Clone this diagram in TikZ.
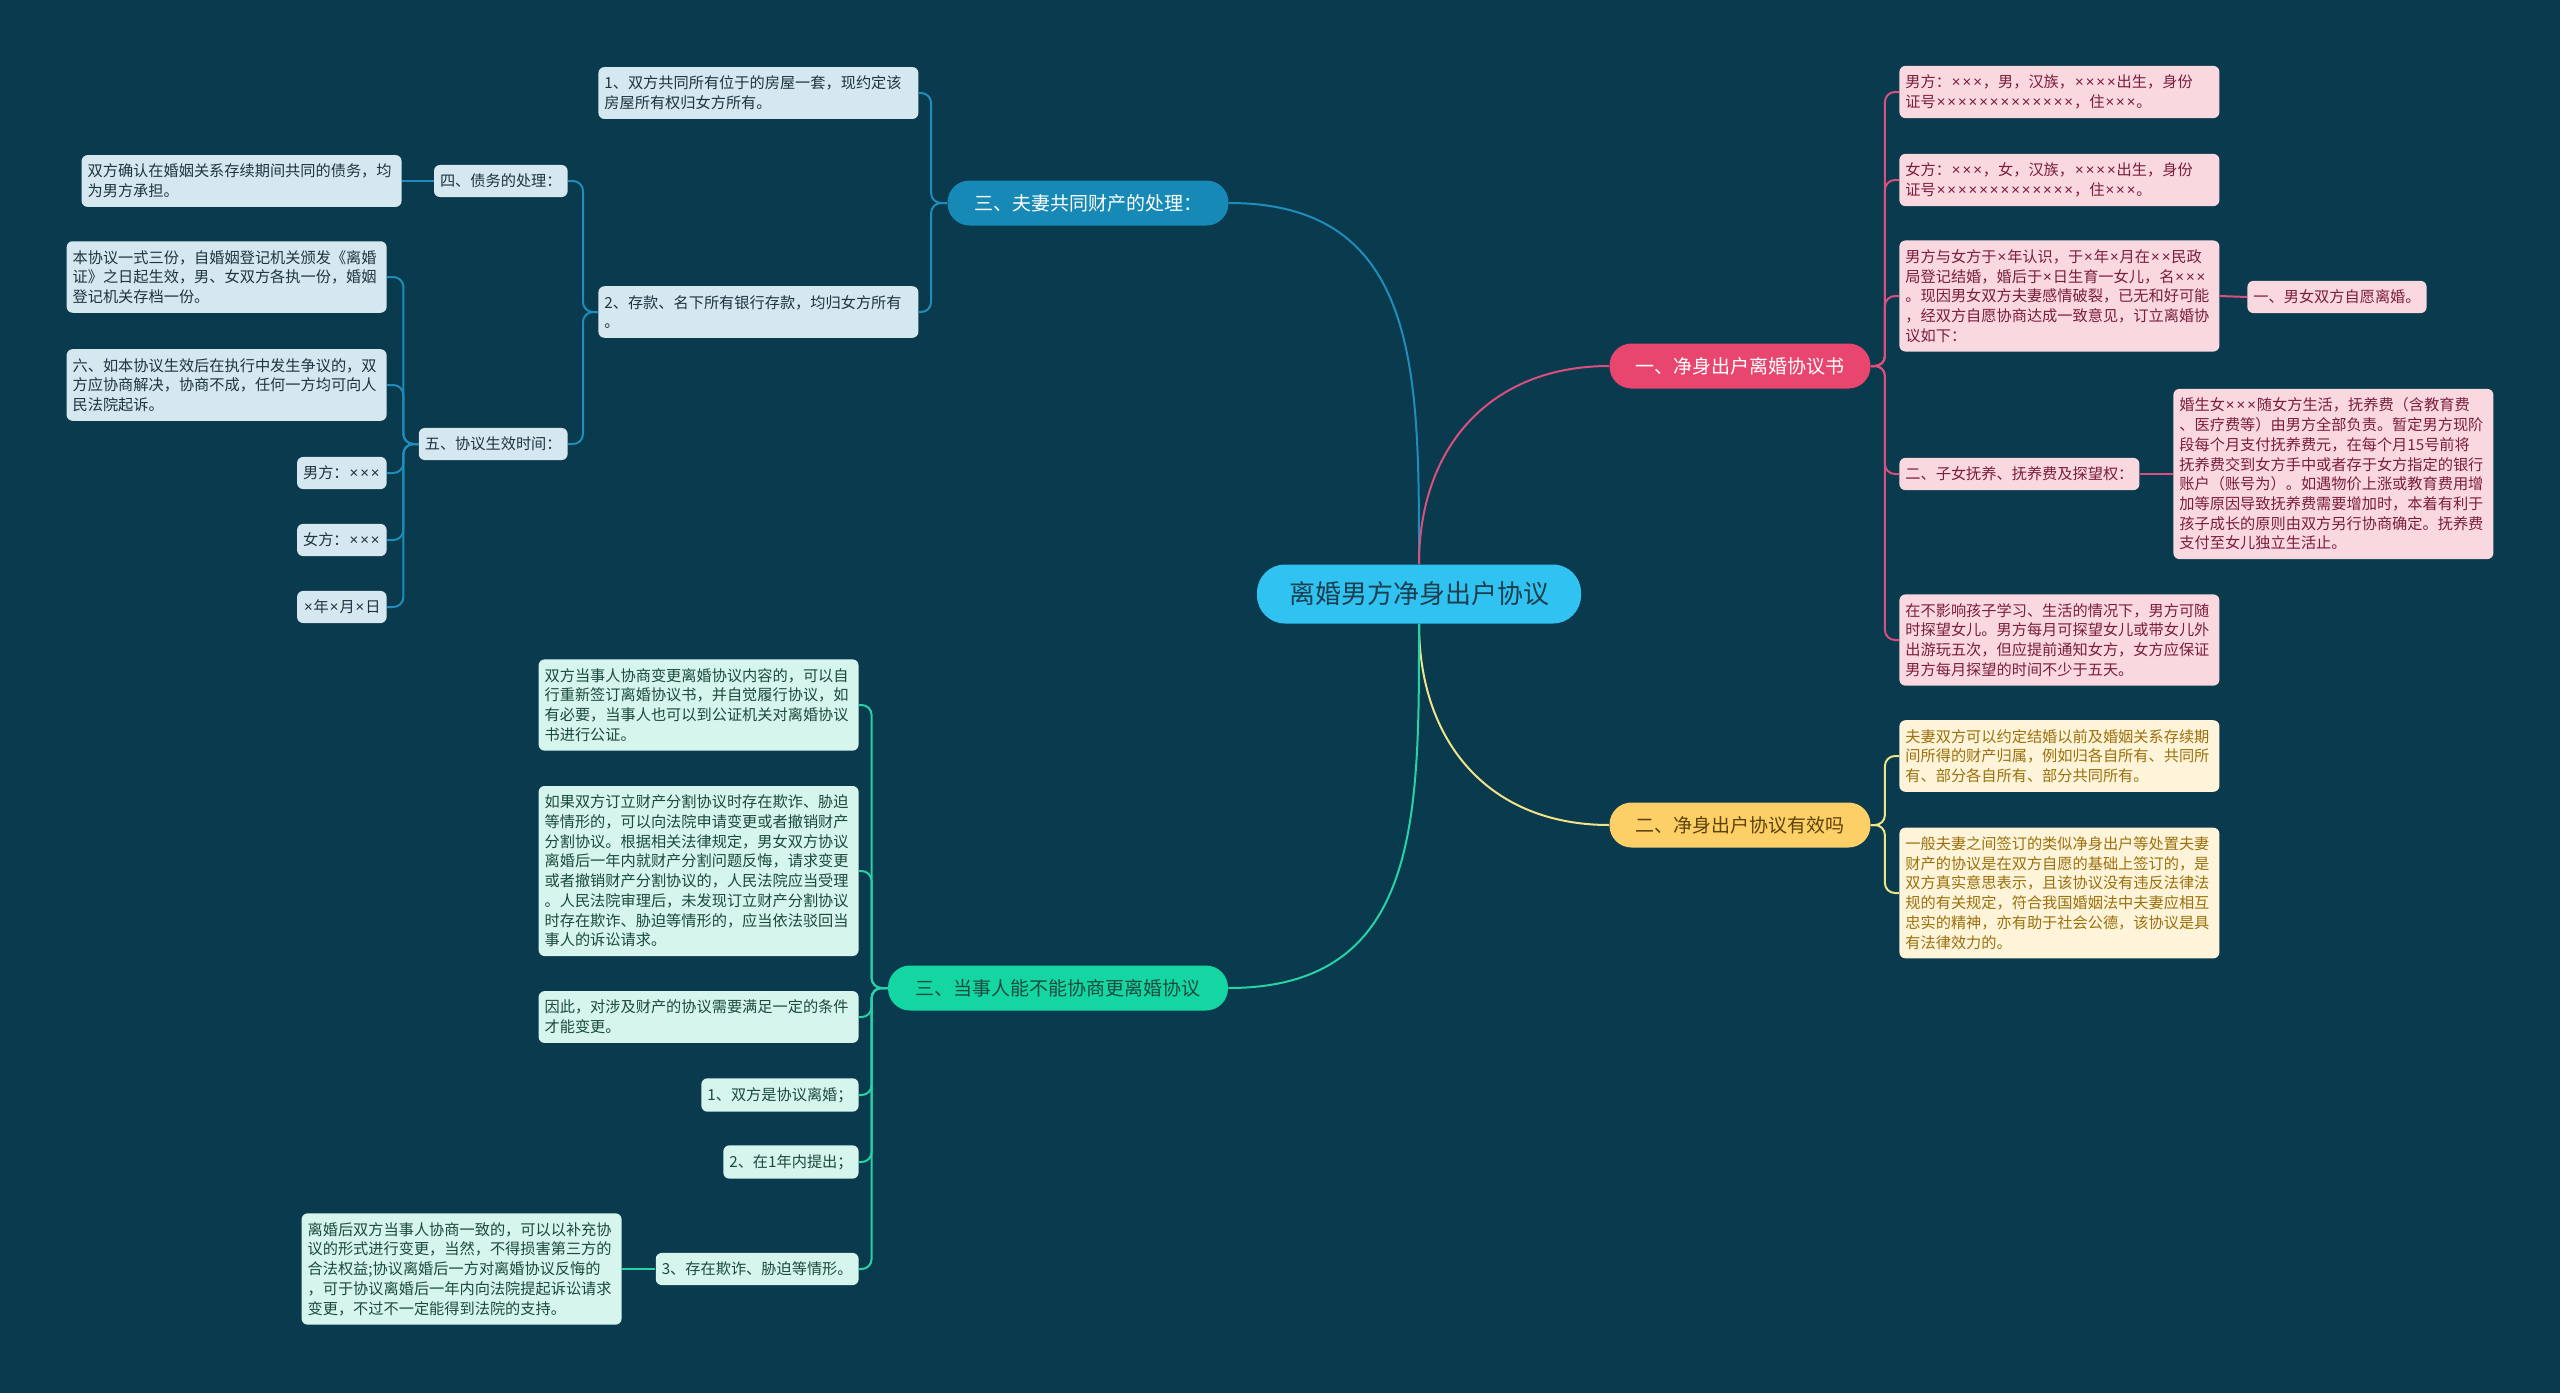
\documentclass[tikz,border=0pt]{standalone}
\usepackage{fontspec}
\usepackage{newunicodechar}
\usepackage{xcolor}
\usepackage{tikz}
\usetikzlibrary{positioning}
\newfontfamily\cjk{Noto Sans CJK SC}
\newfontfamily\lat{Noto Sans}
\newunicodechar{×}{\makebox[0.7em]{\lat\symbol{"D7}}}
\definecolor{bgteal}{HTML}{0A3A4D}
\definecolor{rootfill}{HTML}{30C3F2}
\definecolor{rootink}{HTML}{1C3E4E}
\definecolor{bluetop}{HTML}{1789B6}
\definecolor{blueline}{HTML}{1E8DBB}
\definecolor{bluefill}{HTML}{D5E8F0}
\definecolor{blueink}{HTML}{1E3440}
\definecolor{pinktop}{HTML}{E8466E}
\definecolor{pinkline}{HTML}{D9507E}
\definecolor{pinkfill}{HTML}{FAD8E0}
\definecolor{pinkink}{HTML}{7A1E3C}
\definecolor{yellowtop}{HTML}{FCCF67}
\definecolor{yellowline}{HTML}{F0E48A}
\definecolor{yellowfill}{HTML}{FDF4DA}
\definecolor{yellowink}{HTML}{9C700C}
\definecolor{greentop}{HTML}{14D6A2}
\definecolor{greenline}{HTML}{26D2A6}
\definecolor{greenfill}{HTML}{D6F5EC}
\definecolor{greenink}{HTML}{1B4A3F}
\tikzset{
  rootnode/.style={fill=rootfill, text=rootink, rounded corners=14pt, minimum width=162pt, minimum height=29.5pt, font=\cjk\fontsize{13}{15}\selectfont},
  topic/.style={rounded corners=11pt, minimum height=22.5pt, font=\cjk\fontsize{9.5}{11}\selectfont},
  leaf/.style={rounded corners=3pt, inner xsep=3pt, inner ysep=4.5pt, align=left, font=\cjk\fontsize{7.6}{9.85}\selectfont},
  wideleaf/.style={leaf, text width=154pt},
  blueleaf/.style={fill=bluefill, text=blueink},
  pinkleaf/.style={fill=pinkfill, text=pinkink},
  yellowleaf/.style={fill=yellowfill, text=yellowink},
  greenleaf/.style={fill=greenfill, text=greenink},
  branch/.style={line width=1pt, rounded corners=5pt},
}

\begin{document}
\begin{tikzpicture}[x=0.5pt, y=0.5pt]
\fill[bgteal] (0,0) rectangle (2560,-1393);
\useasboundingbox (0,0) rectangle (2560,-1393);

\node[rootnode] (root) at (1419,-594) {离婚男方净身出户协议};
\node[topic, fill=bluetop, text=white, minimum width=140.5pt] (m3) at (1088,-203) {三、夫妻共同财产的处理：};
\node[topic, fill=pinktop, text=white, minimum width=130.5pt] (m1) at (1740,-366) {一、净身出户离婚协议书};
\node[topic, fill=yellowtop, text=yellowink!60!black, minimum width=130.5pt] (m2) at (1740,-825) {二、净身出户协议有效吗};
\node[topic, fill=greentop, text=greenink, minimum width=170pt] (m4) at (1058,-988) {三、当事人能不能协商更离婚协议};

\draw[line width=1pt, blueline] (root.north) to[out=90, in=0, looseness=1.2] (m3.east);
\draw[line width=1pt, pinkline] (root.north) to[out=90, in=180, looseness=1.1] (m1.west);
\draw[line width=1pt, yellowline] (root.south) to[out=-90, in=180, looseness=1.1] (m2.west);
\draw[line width=1pt, greenline] (root.south) to[out=-90, in=0, looseness=1.2] (m4.east);

% blue branch
\node[wideleaf, blueleaf, anchor=west] (a1) at (598,-93) {1、双方共同所有位于的房屋一套，现约定该\\房屋所有权归女方所有。};
\node[wideleaf, blueleaf, anchor=west] (a2) at (598,-312) {2、存款、名下所有银行存款，均归女方所有\\。};
\node[leaf, blueleaf, anchor=east] (a3) at (568,-181) {四、债务的处理：};
\node[wideleaf, blueleaf, anchor=east] (a4) at (402,-181) {双方确认在婚姻关系存续期间共同的债务，均\\为男方承担。};
\node[leaf, blueleaf, anchor=east] (a5) at (568,-444) {五、协议生效时间：};
\node[wideleaf, blueleaf, anchor=east] (a6) at (387,-277) {本协议一式三份，自婚姻登记机关颁发《离婚\\证》之日起生效，男、女双方各执一份，婚姻\\登记机关存档一份。};
\node[wideleaf, blueleaf, anchor=east] (a7) at (387,-385) {六、如本协议生效后在执行中发生争议的，双\\方应协商解决，协商不成，任何一方均可向人\\民法院起诉。};
\node[leaf, blueleaf, anchor=east] (a8) at (387,-473) {男方：×××};
\node[leaf, blueleaf, anchor=east] (a9) at (387,-540) {女方：×××};
\node[leaf, blueleaf, anchor=east] (a10) at (387,-607) {×年×月×日};

\draw[branch, blueline] (m3.west) -- ++(-16,0) |- (a1.east);
\draw[branch, blueline] (m3.west) -- ++(-16,0) |- (a2.east);
\draw[branch, blueline] (a2.west) -- ++(-15,0) |- (a3.east);
\draw[branch, blueline] (a2.west) -- ++(-15,0) |- (a5.east);
\draw[branch, blueline] (a3.west) -- (a4.east);
\foreach \k in {a6,a7,a8,a9,a10}
  \draw[branch, blueline] (a5.west) -- ++(-15,0) |- (\k.east);

% pink branch
\node[wideleaf, pinkleaf, anchor=west] (p1) at (1899,-92) {男方：×××，男，汉族，××××出生，身份\\证号×××××××××××××，住×××。};
\node[wideleaf, pinkleaf, anchor=west] (p2) at (1899,-180) {女方：×××，女，汉族，××××出生，身份\\证号×××××××××××××，住×××。};
\node[wideleaf, pinkleaf, anchor=west] (p3) at (1899,-296) {男方与女方于×年认识，于×年×月在××民政\\局登记结婚，婚后于×日生育一女儿，名×××\\。现因男女双方夫妻感情破裂，已无和好可能\\，经双方自愿协商达成一致意见，订立离婚协\\议如下：};
\node[leaf, pinkleaf, anchor=west] (p4) at (2247,-297) {一、男女双方自愿离婚。};
\node[leaf, pinkleaf, anchor=west] (p5) at (1899,-474) {二、子女抚养、抚养费及探望权：};
\node[wideleaf, pinkleaf, anchor=west] (p6) at (2173,-474) {婚生女×××随女方生活，抚养费（含教育费\\、医疗费等）由男方全部负责。暂定男方现阶\\段每个月支付抚养费元，在每个月15号前将\\抚养费交到女方手中或者存于女方指定的银行\\账户（账号为）。如遇物价上涨或教育费用增\\加等原因导致抚养费需要增加时，本着有利于\\孩子成长的原则由双方另行协商确定。抚养费\\支付至女儿独立生活止。};
\node[wideleaf, pinkleaf, anchor=west] (p7) at (1899,-640) {在不影响孩子学习、生活的情况下，男方可随\\时探望女儿。男方每月可探望女儿或带女儿外\\出游玩五次，但应提前通知女方，女方应保证\\男方每月探望的时间不少于五天。};

\foreach \k in {p1,p2,p3,p5,p7}
  \draw[branch, pinkline] (m1.east) -- ++(14,0) |- (\k.west);
\draw[branch, pinkline] (p3.east) -- (p4.west);
\draw[branch, pinkline] (p5.east) -- (p6.west);

% yellow branch
\node[wideleaf, yellowleaf, anchor=west] (y1) at (1899,-756) {夫妻双方可以约定结婚以前及婚姻关系存续期\\间所得的财产归属，例如归各自所有、共同所\\有、部分各自所有、部分共同所有。};
\node[wideleaf, yellowleaf, anchor=west] (y2) at (1899,-893) {一般夫妻之间签订的类似净身出户等处置夫妻\\财产的协议是在双方自愿的基础上签订的，是\\双方真实意思表示，且该协议没有违反法律法\\规的有关规定，符合我国婚姻法中夫妻应相互\\忠实的精神，亦有助于社会公德，该协议是具\\有法律效力的。};

\foreach \k in {y1,y2}
  \draw[branch, yellowline] (m2.east) -- ++(14,0) |- (\k.west);

% green branch
\node[wideleaf, greenleaf, anchor=east] (g1) at (859,-705) {双方当事人协商变更离婚协议内容的，可以自\\行重新签订离婚协议书，并自觉履行协议，如\\有必要，当事人也可以到公证机关对离婚协议\\书进行公证。};
\node[wideleaf, greenleaf, anchor=east] (g2) at (859,-871) {如果双方订立财产分割协议时存在欺诈、胁迫\\等情形的，可以向法院申请变更或者撤销财产\\分割协议。根据相关法律规定，男女双方协议\\离婚后一年内就财产分割问题反悔，请求变更\\或者撤销财产分割协议的，人民法院应当受理\\。人民法院审理后，未发现订立财产分割协议\\时存在欺诈、胁迫等情形的，应当依法驳回当\\事人的诉讼请求。};
\node[wideleaf, greenleaf, anchor=east] (g3) at (859,-1017) {因此，对涉及财产的协议需要满足一定的条件\\才能变更。};
\node[leaf, greenleaf, anchor=east] (g4) at (859,-1095) {1、双方是协议离婚；};
\node[leaf, greenleaf, anchor=east] (g5) at (859,-1162) {2、在1年内提出；};
\node[leaf, greenleaf, anchor=east] (g6) at (859,-1269) {3、存在欺诈、胁迫等情形。};
\node[wideleaf, greenleaf, anchor=east] (g7) at (622,-1269) {离婚后双方当事人协商一致的，可以以补充协\\议的形式进行变更，当然，不得损害第三方的\\合法权益;协议离婚后一方对离婚协议反悔的\\，可于协议离婚后一年内向法院提起诉讼请求\\变更，不过不一定能得到法院的支持。};

\foreach \k in {g1,g2,g3,g4,g5,g6}
  \draw[branch, greenline] (m4.west) -- ++(-16,0) |- (\k.east);
\draw[branch, greenline] (g6.west) -- (g7.east);
\end{tikzpicture}
\end{document}
